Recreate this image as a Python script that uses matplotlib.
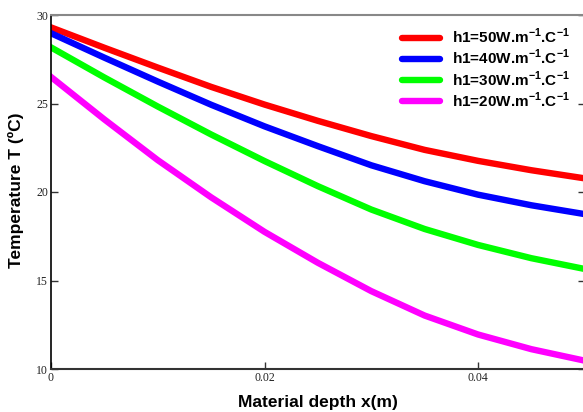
import numpy as np
import matplotlib
matplotlib.use('Agg')
import matplotlib.pyplot as plt

# data
x = [0, 0.005, 0.01, 0.015, 0.02, 0.025, 0.03, 0.035, 0.04, 0.045, 0.05]
t_h50 = [29.3, 28.15, 27.03, 25.94, 24.94, 24.02, 23.16, 22.38, 21.76, 21.23, 20.77]
t_h40 = [28.97, 27.59, 26.24, 24.93, 23.71, 22.59, 21.51, 20.61, 19.85, 19.25, 18.75]
t_h30 = [28.17, 26.47, 24.83, 23.25, 21.75, 20.33, 19.01, 17.91, 17.01, 16.26, 15.65]
t_h20 = [26.5, 24.1, 21.8, 19.7, 17.75, 16.0, 14.4, 13.02, 11.95, 11.12, 10.47]

labels = [r'h1=50W.m$^{\mathbf{-1}}$.C$^{\mathbf{-1}}$',
          r'h1=40W.m$^{\mathbf{-1}}$.C$^{\mathbf{-1}}$',
          r'h1=30W.m$^{\mathbf{-1}}$.C$^{\mathbf{-1}}$',
          r'h1=20W.m$^{\mathbf{-1}}$.C$^{\mathbf{-1}}$']
colors = ['#ff0000', '#0000ff', '#00ff00', '#ff00ff']

plt.rcParams['mathtext.fontset'] = 'custom'
plt.rcParams['mathtext.bf'] = 'Liberation Sans:bold'
plt.rcParams['mathtext.rm'] = 'Liberation Sans:bold'

fig = plt.figure(figsize=(5.83, 4.12), dpi=100)
ax = fig.add_axes([51 / 583, 1 - 369 / 412, 533.75 / 583, 354 / 412])

for ys, c, lab in zip([t_h50, t_h40, t_h30, t_h20], colors, labels):
    ax.plot(x, ys, color=c, lw=4.6, label=lab, solid_joinstyle='round')

ax.set_xlim(0, 0.05)
ax.set_ylim(10, 30)
ax.set_xticks([0, 0.02, 0.04])
ax.set_xticklabels(['0', '0.02', '0.04'])
ax.set_yticks([10, 15, 20, 25, 30])

ax.tick_params(direction='in', length=5, width=1, right=True,
               labelsize=8.5, pad=2, colors='#333333', labelcolor='#222222')
for lab in ax.get_xticklabels() + ax.get_yticklabels():
    lab.set_family('Liberation Serif')

ax.spines['top'].set_color('#888888')
ax.spines['top'].set_linewidth(1.5)
ax.spines['left'].set_color('black')
ax.spines['bottom'].set_color('#333333')
ax.spines['left'].set_linewidth(1.2)
ax.spines['bottom'].set_linewidth(1.5)

ax.set_xlabel('Material depth x(m)', fontsize=12.5, fontweight='bold',
              family='Liberation Sans', labelpad=8)
fig.text(16 / 583, 1 - 190 / 412, 'Temperature T (ºC)', rotation=90,
         fontsize=12.5, fontweight='bold', family='Liberation Sans',
         ha='center', va='center')

leg = ax.legend(loc='upper left', bbox_to_anchor=(402 / 583, 1 - 27 / 412),
                bbox_transform=fig.transFigure, frameon=False,
                borderpad=0, borderaxespad=0, handlelength=2.5,
                handletextpad=0.8, labelspacing=0.12,
                prop={'family': 'Liberation Sans', 'weight': 'bold', 'size': 11})
for line in leg.get_lines():
    line.set_linewidth(4.6)
    line.set_solid_capstyle('round')

fig.savefig('out.png', dpi=100)
